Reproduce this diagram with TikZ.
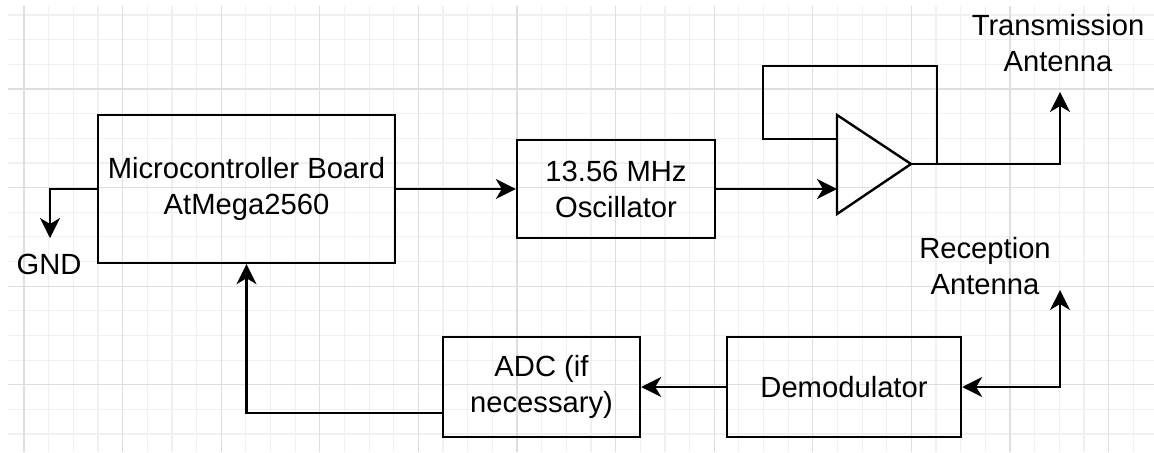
\documentclass[tikz,border=0pt]{standalone}
\usepackage{fontspec}
\setmainfont{Liberation Sans}
\usetikzlibrary{arrows.meta,positioning,calc}
\definecolor{GridMin}{HTML}{F0F0F0}
\definecolor{GridMaj}{HTML}{DEDEDE}

\begin{document}
\begin{tikzpicture}[x=0.5pt, y=-0.5pt,
    blk/.style={draw, line width=1.2pt, inner sep=0pt, align=center,
                font=\fontsize{14.6}{18}\selectfont},
    lbl/.style={inner sep=0pt, align=center,
                font=\fontsize{14.6}{18}\selectfont},
    wire/.style={line width=1.2pt},
    arr/.style={-{Stealth[length=10pt, width=10pt, inset=3pt]}},
    arrboth/.style={{Stealth[length=10pt, width=10pt, inset=3pt]}-{Stealth[length=10pt, width=10pt, inset=3pt]}}]

    \useasboundingbox (0,0) rectangle (1154,452);

    %% background grid
    \begin{scope}
      \clip (8,6) rectangle (1154,452);
      \foreach \ii in {0,...,45}
        \draw[GridMin, line width=0.6pt] (24+\ii*24.65, 6) -- ++(0,446);
      \foreach \jj in {0,...,17}
        \draw[GridMin, line width=0.6pt] (8, 15+\jj*24.65) -- ++(1146,0);
      \foreach \ii in {0,...,11}
        \draw[GridMaj, line width=0.6pt] (24+\ii*98.6, 6) -- ++(0,446);
      \foreach \jj in {0,...,3}
        \draw[GridMaj, line width=0.6pt] (8, 89+\jj*98.6) -- ++(1146,0);
    \end{scope}

    %% blocks
    \node[blk, minimum width=148.5pt, minimum height=74pt]
      (micro) at (246.5,189) {Microcontroller Board\\AtMega2560};
    \node[blk, minimum width=99pt, minimum height=49pt]
      (osc) at (616,189) {13.56 MHz\\Oscillator};
    \node[blk, minimum width=98.5pt, minimum height=50pt]
      (adc) at (541.5,387) {ADC (if\\necessary)};
    \node[blk, minimum width=117pt, minimum height=50pt]
      (demod) at (844,387) {Demodulator};

    %% amplifier
    \coordinate (ampTL) at (837,115);
    \coordinate (ampBL) at (837,214);
    \coordinate (ampTip) at (911,164);
    \coordinate (ampFb) at (837,139);
    \draw[wire, line join=miter] (ampTL) -- (ampTip) -- (ampBL) -- cycle;

    %% labels
    \node[lbl] (gnd) at (49,264) {GND};
    \node[lbl] (txant) at (1058,43) {Transmission\\Antenna};
    \node[lbl] (rxant) at (985,266) {Reception\\Antenna};
    \coordinate (gndEnd) at (50,238);
    \coordinate (txEnd) at (1060,92);
    \coordinate (rxEnd) at (1060,290);
    \coordinate (fbR) at (937,164);

    %% connectors
    \draw[wire, arr] (micro.west) -| (gndEnd);
    \draw[wire, arr] (micro.east) -- (osc.west);
    \draw[wire, arr] (osc.east) -- (osc.east -| ampTL);
    \draw[wire] (ampFb) -| (763,66) -| (fbR);
    \draw[wire, arr] (ampTip) -| (txEnd);
    \draw[wire, arrboth] (demod.east) -| (rxEnd);
    \draw[wire, arr] (demod.west) -- (adc.east);
    \draw[wire, arr] ([yshift=-13pt]adc.west) -| (micro.south);

\end{tikzpicture}
\end{document}
